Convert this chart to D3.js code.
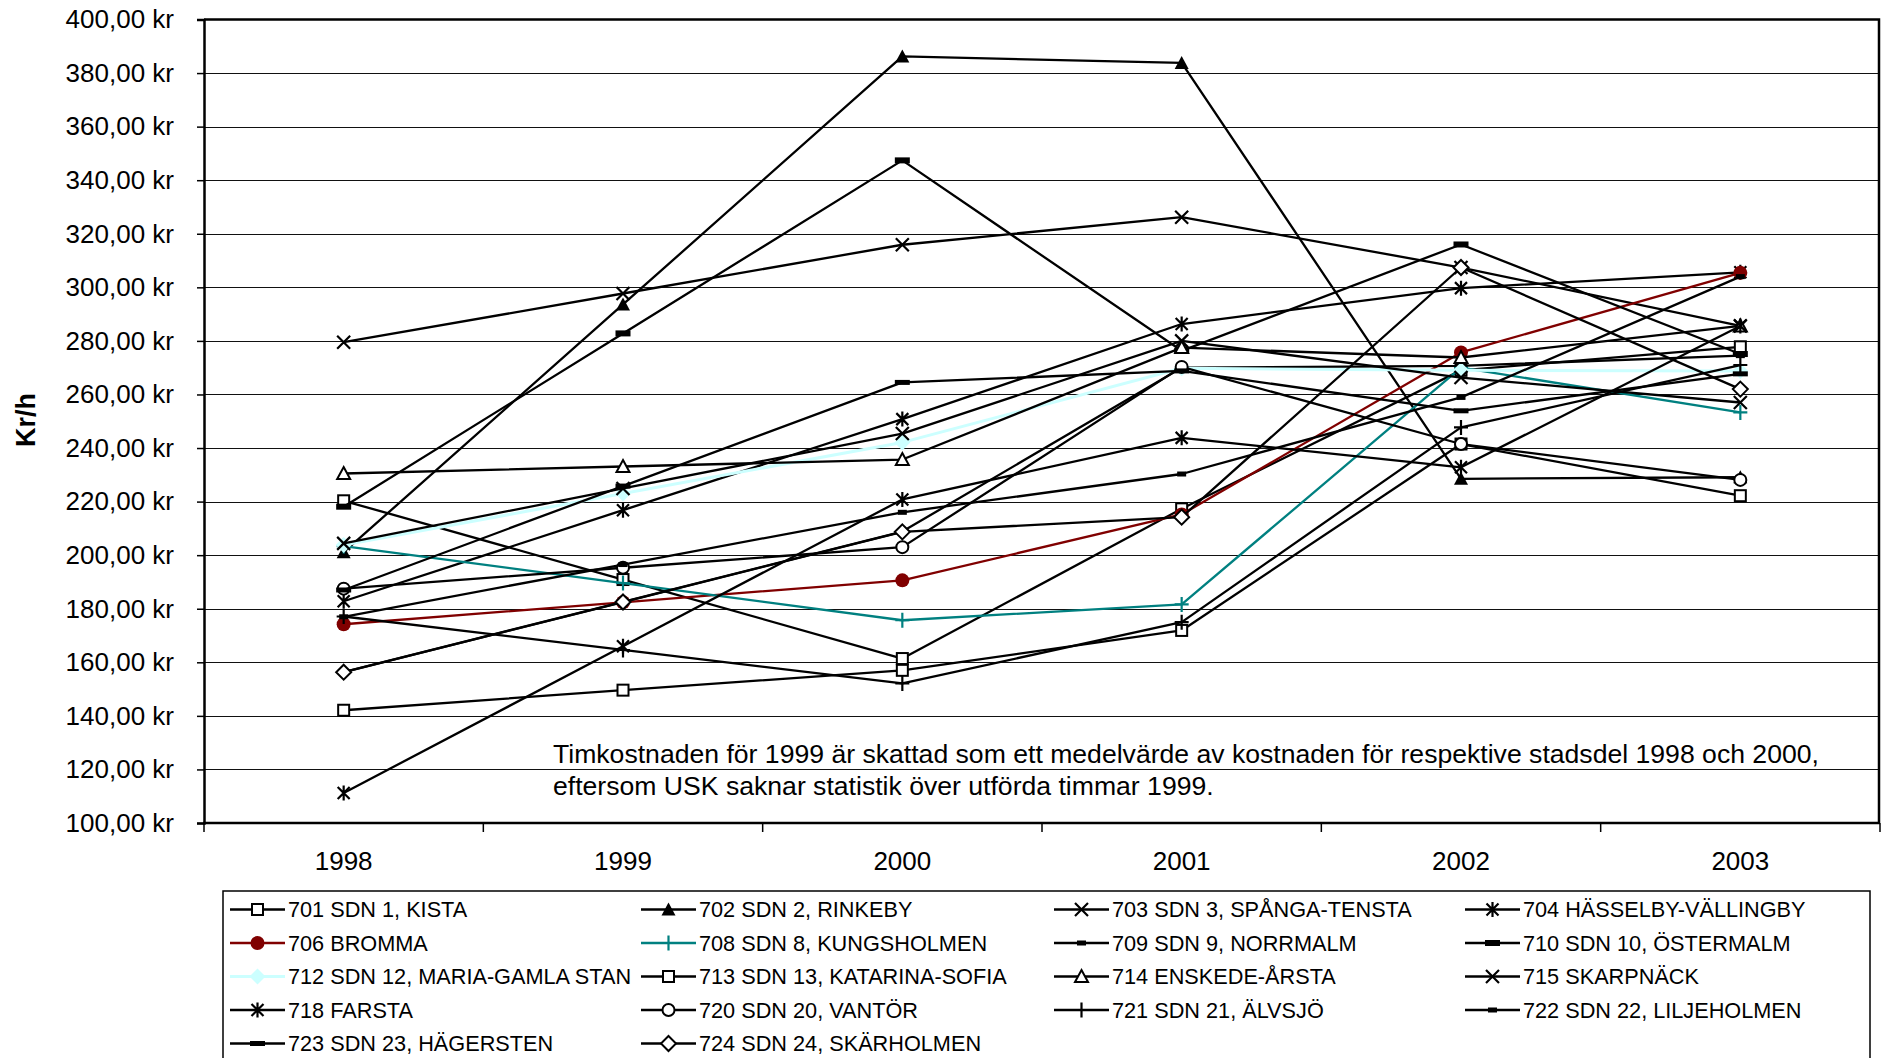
<!DOCTYPE html>
<html>
<head>
<meta charset="utf-8">
<script src="https://cdn.jsdelivr.net/npm/d3@7"></script>
<style>
  html, body { margin: 0; padding: 0; background: #fff; }
  svg { display: block; font-family: "Liberation Sans", Arial, sans-serif; }
</style>
</head>
<body>
<svg id="chart" width="1881" height="1058"></svg>
<script>
// ---- data: hourly cost (kr/h) per district, 1998–2003 ----
const years = ["1998", "1999", "2000", "2001", "2002", "2003"];
const yTicks = [100, 120, 140, 160, 180, 200, 220, 240, 260, 280, 300, 320, 340, 360, 380, 400];

const seriesLabels = [
  "701 SDN 1, KISTA", "702 SDN 2, RINKEBY", "703 SDN 3, SPÅNGA-TENSTA", "704 HÄSSELBY-VÄLLINGBY",
  "706 BROMMA", "708 SDN 8, KUNGSHOLMEN", "709 SDN 9, NORRMALM", "710 SDN 10, ÖSTERMALM",
  "712 SDN 12, MARIA-GAMLA STAN", "713 SDN 13, KATARINA-SOFIA", "714 ENSKEDE-ÅRSTA", "715 SKARPNÄCK",
  "718 FARSTA", "720 SDN 20, VANTÖR", "721 SDN 21, ÄLVSJÖ", "722 SDN 22, LILJEHOLMEN",
  "723 SDN 23, HÄGERSTEN", "724 SDN 24, SKÄRHOLMEN"
];

const kista        = [220.3, 190.9, 161.4, 217.3, 269.0, 277.8];
const rinkeby      = [201.1, 293.6, 386.2, 383.8, 228.5, 229.1];
const spangaTensta = [279.5, 297.7, 315.9, 326.2, 307.4, 285.6];
const hasselby     = [182.8, 216.8, 250.8, 286.3, 299.7, 305.6];
const bromma       = [174.2, 182.4, 190.6, 215.2, 275.7, 305.4];
const kungsholmen  = [203.4, 189.6, 175.7, 181.6, 270.0, 253.3];
const norrmalm     = [156.3, 182.6, 208.8, 270.0, 270.7, 274.5];
const ostermalm    = [218.1, 282.8, 347.4, 276.3, 316.0, 275.1];
const mariaGamla   = [203.8, 223.0, 242.1, 269.8, 269.0, 268.8];
const katarina     = [142.1, 149.6, 157.0, 171.9, 241.5, 222.2];
const enskede      = [230.5, 233.1, 235.7, 277.5, 273.8, 285.6];
const skarpnack    = [204.4, 224.9, 245.4, 280.0, 266.3, 257.0];
const farsta       = [111.2, 166.0, 220.8, 243.8, 232.8, 285.6];
const vantor       = [187.5, 195.3, 203.0, 270.3, 241.5, 228.1];
const alvsjo       = [177.1, 164.6, 152.1, 175.0, 247.7, 271.0];
const liljeholmen  = [177.0, 196.5, 216.0, 230.3, 258.9, 304.0];
const hagersten    = [187.0, 225.8, 264.5, 268.8, 253.9, 267.7];
const skarholmen   = [156.3, 182.5, 208.7, 214.2, 307.4, 262.0];

const seriesValues = [
  kista, rinkeby, spangaTensta, hasselby, bromma, kungsholmen, norrmalm, ostermalm,
  mariaGamla, katarina, enskede, skarpnack, farsta, vantor, alvsjo, liljeholmen,
  hagersten, skarholmen
];

const noteLines = [
  "Timkostnaden för 1999 är skattad som ett medelvärde av kostnaden för respektive stadsdel 1998 och 2000,",
  "eftersom USK saknar statistik över utförda timmar 1999."
];

// ---- styling per series (marker shape, colours) ----
const DARKRED = "#800000", TEAL = "#008080", PALECYAN = "#CCFFFF";
const seriesStyle = [
  { marker: "square" },
  { marker: "triFill" },
  { marker: "x" },
  { marker: "asterisk" },
  { marker: "circleFill", color: DARKRED },
  { marker: "plus", color: TEAL },
  { marker: "dash", w: 9, h: 5 },
  { marker: "dash", w: 15, h: 6 },
  { marker: "diamondFill", color: PALECYAN, width: 3 },
  { marker: "square" },
  { marker: "triOpen" },
  { marker: "x" },
  { marker: "asterisk" },
  { marker: "circle" },
  { marker: "plus" },
  { marker: "dash", w: 9, h: 5 },
  { marker: "dash", w: 15, h: 5 },
  { marker: "diamond" }
];

const FONT = '"Liberation Sans", Arial, sans-serif';

// ---- layout ----
const svg = d3.select("#chart");
const plot = { left: 204, right: 1880, top: 19.5, bottom: 823 };

const x = d3.scaleBand().domain(years).range([plot.left, plot.right]);
const cx = d => x(d) + x.bandwidth() / 2;
const y = d3.scaleLinear().domain([100, 400]).range([plot.bottom, plot.top]);

const sv = d3.formatLocale({ decimal: ",", thousands: "\u00a0", grouping: [3], currency: ["", ""] });
const fmt2 = sv.format(".2f");

// horizontal gridlines
svg.append("g")
  .selectAll("line")
  .data(yTicks.filter(t => t > 100 && t < 400))
  .join("line")
  .attr("x1", plot.left).attr("x2", plot.right)
  .attr("y1", d => Math.round(y(d)) + 0.5).attr("y2", d => Math.round(y(d)) + 0.5)
  .attr("stroke", "#111").attr("stroke-width", 1);

// plot frame (top and right)
svg.append("path")
  .attr("d", `M${plot.left},${y(400)}H${plot.right - 1}V${plot.bottom}`)
  .attr("fill", "none").attr("stroke", "#000").attr("stroke-width", 2.5);

// y axis
const yAxis = svg.append("g")
  .attr("transform", `translate(${plot.left},0)`)
  .call(d3.axisLeft(y).tickValues(yTicks).tickFormat(d => fmt2(d) + " kr").tickSize(7).tickPadding(23));
yAxis.select(".domain").attr("stroke", "#000").attr("stroke-width", 2.5);
yAxis.selectAll(".tick line").attr("stroke", "#000").attr("stroke-width", 1.5);
yAxis.selectAll(".tick text").attr("font-size", 26).attr("fill", "#000").attr("font-family", FONT);

// x axis: labels at category centres, tick marks at category boundaries
const xAxis = svg.append("g")
  .attr("transform", `translate(0,${plot.bottom})`)
  .call(d3.axisBottom(x).tickSize(0).tickPadding(29));
xAxis.select(".domain").remove();
xAxis.selectAll(".tick text").attr("font-size", 26).attr("fill", "#000").attr("font-family", FONT);
svg.append("line")
  .attr("x1", plot.left - 1).attr("x2", plot.right)
  .attr("y1", plot.bottom).attr("y2", plot.bottom)
  .attr("stroke", "#000").attr("stroke-width", 2.5);
svg.append("g")
  .selectAll("line")
  .data(years.map(d => x(d)).concat([x.range()[1]]))
  .join("line")
  .attr("x1", d => d).attr("x2", d => d)
  .attr("y1", plot.bottom).attr("y2", plot.bottom + 9)
  .attr("stroke", "#000").attr("stroke-width", 1.5);

// y axis title
svg.append("text")
  .attr("transform", "translate(35,420) rotate(-90)")
  .attr("text-anchor", "middle")
  .attr("font-size", 27).attr("font-weight", "bold")
  .text("Kr/h");

// explanatory note inside the plot
svg.append("g")
  .selectAll("text")
  .data(noteLines)
  .join("text")
  .attr("x", 553)
  .attr("y", (d, i) => 763 + i * 32)
  .attr("font-size", 26.6)
  .text(d => d);

// ---- markers ----
function drawMarker(g, st) {
  const col = st.color || "#000";
  switch (st.marker) {
    case "square":
      g.append("rect").attr("x", -5.5).attr("y", -5.5).attr("width", 11).attr("height", 11)
        .attr("fill", "#fff").attr("stroke", col).attr("stroke-width", 2);
      break;
    case "triFill":
      g.append("path").attr("d", "M0,-7L7,6H-7Z").attr("fill", col);
      break;
    case "triOpen":
      g.append("path").attr("d", "M0,-6.5L6.5,5.5H-6.5Z")
        .attr("fill", "#fff").attr("stroke", col).attr("stroke-width", 2);
      break;
    case "x":
      g.append("path").attr("d", "M-6.5,-6.5L6.5,6.5M-6.5,6.5L6.5,-6.5")
        .attr("stroke", col).attr("stroke-width", 2.2).attr("fill", "none");
      break;
    case "asterisk":
      g.append("path").attr("d", "M-6,-6L6,6M-6,6L6,-6M0,-7.5V7.5")
        .attr("stroke", col).attr("stroke-width", 2.2).attr("fill", "none");
      break;
    case "circle":
      g.append("circle").attr("r", 6).attr("fill", "#fff").attr("stroke", col).attr("stroke-width", 2);
      break;
    case "circleFill":
      g.append("circle").attr("r", 7).attr("fill", col);
      break;
    case "plus":
      g.append("path").attr("d", "M-7,0H7M0,-7.5V7.5")
        .attr("stroke", col).attr("stroke-width", 2.2).attr("fill", "none");
      break;
    case "dash":
      g.append("rect").attr("x", -st.w / 2).attr("y", -st.h / 2)
        .attr("width", st.w).attr("height", st.h).attr("fill", col);
      break;
    case "diamond":
      g.append("path").attr("d", "M0,-7.5L7.5,0L0,7.5L-7.5,0Z")
        .attr("fill", "#fff").attr("stroke", col).attr("stroke-width", 2);
      break;
    case "diamondFill":
      g.append("path").attr("d", "M0,-8L8,0L0,8L-8,0Z").attr("fill", col);
      break;
  }
}

// ---- series lines + markers ----
const line = d3.line().x((d, i) => cx(years[i])).y(d => y(d));
const seriesG = svg.append("g");
seriesValues.forEach((vals, si) => {
  const st = seriesStyle[si];
  const g = seriesG.append("g");
  g.append("path")
    .attr("d", line(vals))
    .attr("fill", "none")
    .attr("stroke", st.color || "#000")
    .attr("stroke-width", st.width || 2.3)
    .attr("stroke-linejoin", "round");
  vals.forEach((v, i) => {
    const m = g.append("g").attr("transform", `translate(${cx(years[i])},${y(v)})`);
    drawMarker(m, st);
  });
});

// ---- legend ----
const legend = { left: 223, top: 891, right: 1870 };
svg.append("rect")
  .attr("x", legend.left).attr("y", legend.top)
  .attr("width", legend.right - legend.left).attr("height", 220)
  .attr("fill", "#fff").attr("stroke", "#000").attr("stroke-width", 1.5);

const colX = [230, 641, 1054, 1465];
const rowY = [909.5, 943, 976.5, 1010, 1043.5];
seriesLabels.forEach((name, i) => {
  const st = seriesStyle[i];
  const lx = colX[i % 4], ly = rowY[Math.floor(i / 4)];
  const g = svg.append("g").attr("transform", `translate(${lx},${ly})`);
  g.append("line").attr("x1", 0).attr("x2", 55).attr("y1", 0).attr("y2", 0)
    .attr("stroke", st.color || "#000").attr("stroke-width", st.width || 2.3);
  const m = g.append("g").attr("transform", "translate(27.5,0)");
  drawMarker(m, st);
  g.append("text").attr("x", 58).attr("dy", "0.36em").attr("font-size", 21.7).text(name);
});
</script>
</body>
</html>
